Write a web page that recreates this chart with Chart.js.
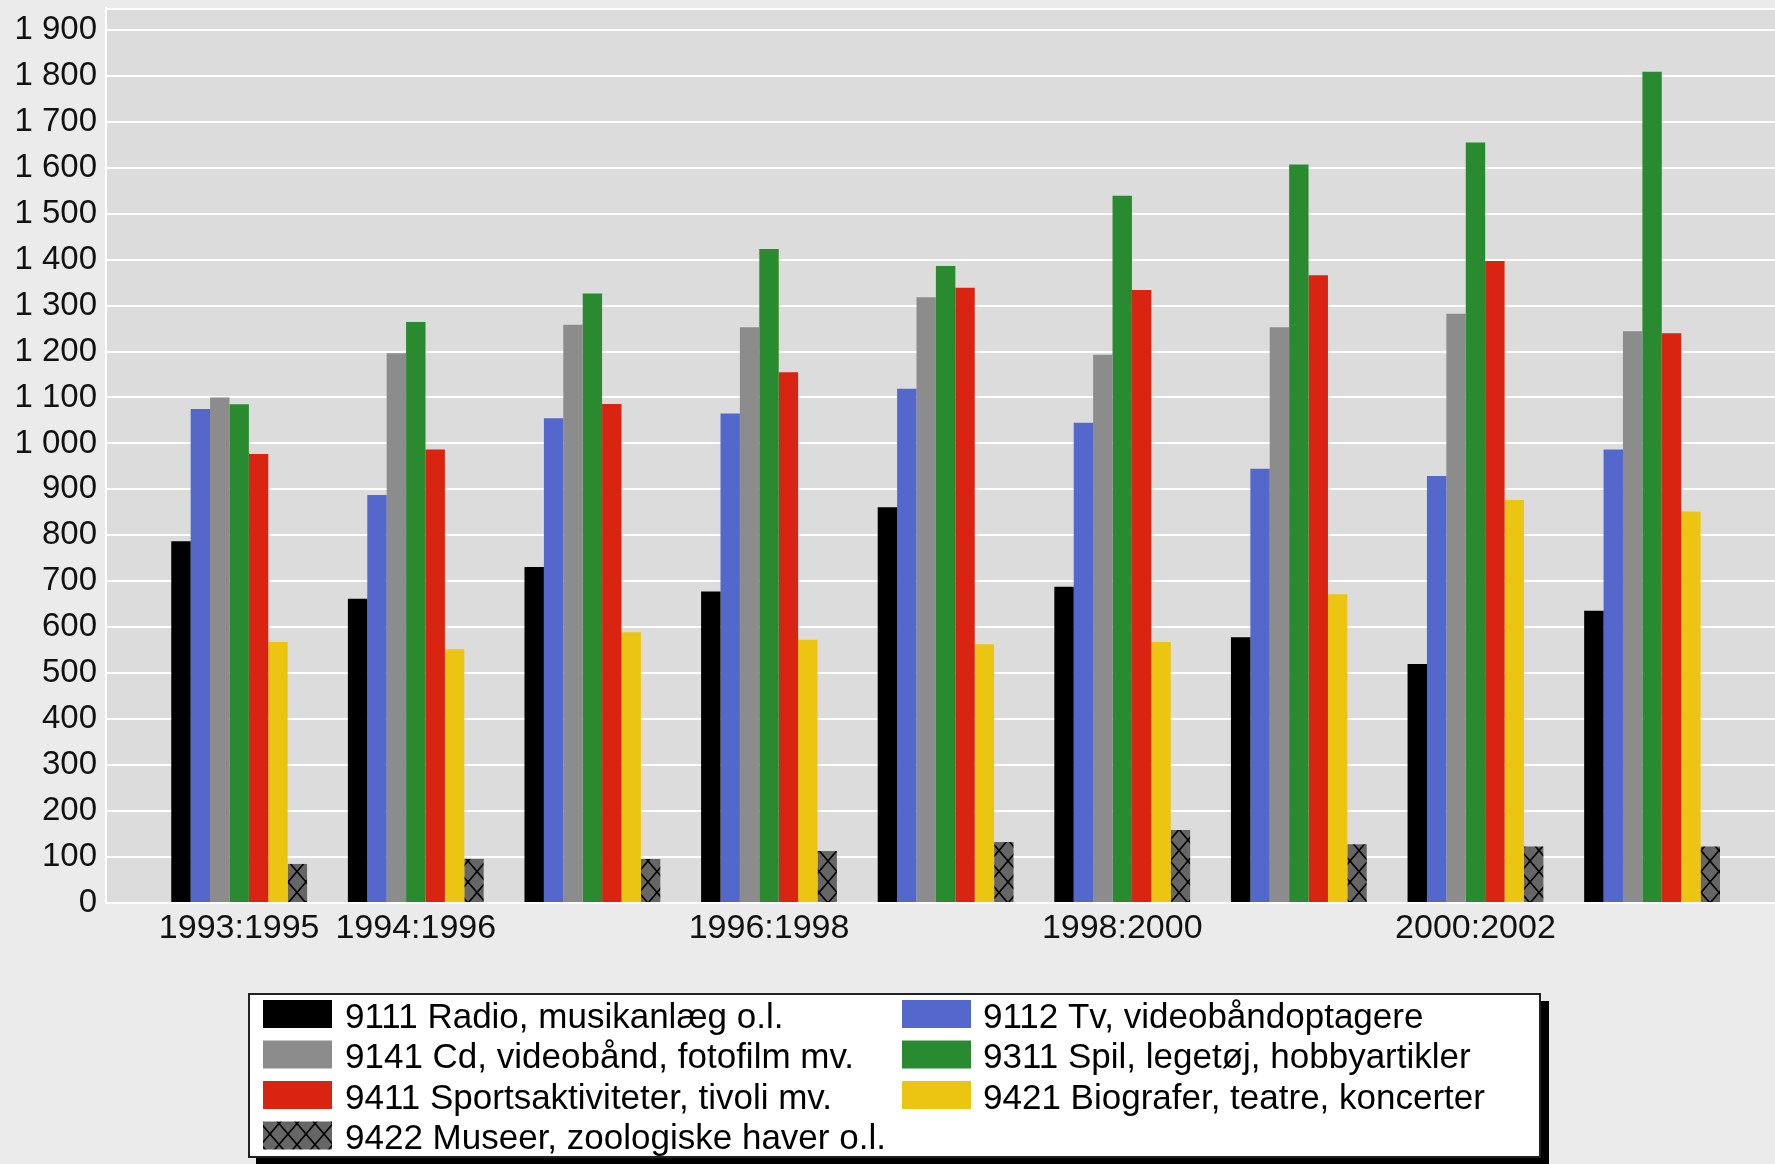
<!DOCTYPE html>
<html>
<head>
<meta charset="utf-8">
<script src="https://cdn.jsdelivr.net/npm/chart.js@4/dist/chart.umd.min.js"></script>
<style>
  html, body { margin: 0; padding: 0; background: #EBEBEB; }
  canvas { display: block; }
</style>
</head>
<body>
<canvas id="c" width="1775" height="1164"></canvas>
<script>
// ---- data ----
const categories = ['1993:1995','1994:1996','1995:1997','1996:1998','1997:1999','1998:2000','1999:2001','2000:2002','2001:2003'];
const shownCategoryIdx = [0, 1, 3, 5, 7];
const seriesLabels = [
  '9111 Radio, musikanlæg o.l.',
  '9112 Tv, videobåndoptagere',
  '9141 Cd, videobånd, fotofilm mv.',
  '9311 Spil, legetøj, hobbyartikler',
  '9411 Sportsaktiviteter, tivoli mv.',
  '9421 Biografer, teatre, koncerter',
  '9422 Museer, zoologiske haver o.l.'
];
const radio  = [787, 662, 731, 678, 861, 688, 578, 520, 636];
const tv     = [1075, 888, 1055, 1065, 1119, 1045, 945, 929, 987];
const cd     = [1100, 1196, 1258, 1253, 1318, 1193, 1253, 1282, 1244];
const spil   = [1085, 1264, 1326, 1423, 1386, 1539, 1607, 1655, 1809];
const sport  = [977, 987, 1086, 1155, 1339, 1334, 1366, 1397, 1240];
const bio    = [568, 552, 589, 573, 563, 568, 672, 877, 852];
const museer = [85, 96, 96, 113, 133, 159, 128, 123, 123];
const yTicks = [0, 100, 200, 300, 400, 500, 600, 700, 800, 900, 1000, 1100, 1200, 1300, 1400, 1500, 1600, 1700, 1800, 1900];

// ---- styles ----
function makeHatch() {
  const w = 18, h = 21;
  const pc = document.createElement('canvas');
  pc.width = w; pc.height = h;
  const g = pc.getContext('2d');
  g.fillStyle = '#666666';
  g.fillRect(0, 0, w, h);
  g.strokeStyle = '#000000';
  g.lineWidth = 1.6;
  g.beginPath();
  g.moveTo(-w, -h); g.lineTo(2 * w, 2 * h);
  g.moveTo(2 * w, -h); g.lineTo(-w, 2 * h);
  g.moveTo(0, -h); g.lineTo(2 * w, h);
  g.moveTo(-w, 0); g.lineTo(w, 2 * h);
  g.moveTo(w, -h); g.lineTo(-w, h);
  g.moveTo(2 * w, 0); g.lineTo(0, 2 * h);
  g.stroke();
  return document.getElementById('c').getContext('2d').createPattern(pc, 'repeat');
}
const hatch = makeHatch();
const colors = ['#000000', '#5468CC', '#8C8C8C', '#2A8A30', '#D82410', '#ECC412', hatch];
const seriesValues = [radio, tv, cd, spil, sport, bio, museer];

const datasets = seriesValues.map((vals, s) => ({
  label: seriesLabels[s],
  data: vals.map((v, i) => ({ x: i, y: v })),
  backgroundColor: colors[s],
  borderWidth: 0,
  categoryPercentage: 0.769,
  barPercentage: 1.0
}));

const FONT = '"Liberation Sans", Arial, sans-serif';

const bgPlugin = {
  id: 'bg',
  beforeDraw(chart) {
    const { ctx, chartArea: a } = chart;
    ctx.save();
    ctx.fillStyle = '#DCDCDC';
    ctx.fillRect(a.left, a.top, a.right - a.left, a.bottom - a.top);
    ctx.restore();
  },
  beforeDatasetsDraw(chart) {
    const { ctx, chartArea: a } = chart;
    ctx.save();
    ctx.strokeStyle = '#FFFFFF';
    ctx.lineWidth = 2;
    ctx.beginPath();
    ctx.moveTo(a.left, a.top + 1);
    ctx.lineTo(a.right, a.top + 1);
    ctx.stroke();
    ctx.restore();
  }
};

const legendPlugin = {
  id: 'boxLegend',
  afterDraw(chart) {
    const ctx = chart.ctx;
    const bx = 248, by = 993, bw = 1293, bh = 165;
    ctx.save();
    ctx.fillStyle = '#000000';
    ctx.fillRect(bx + 8, by + 8, bw, bh);
    ctx.fillStyle = '#FFFFFF';
    ctx.fillRect(bx, by, bw, bh);
    ctx.strokeStyle = '#222222';
    ctx.lineWidth = 2;
    ctx.strokeRect(bx + 1, by + 1, bw - 2, bh - 2);
    const colSw = [263, 902], colTx = [345, 983];
    ctx.font = '35px ' + FONT;
    ctx.textBaseline = 'middle';
    ctx.textAlign = 'left';
    chart.data.datasets.forEach((ds, k) => {
      const col = k % 2, row = Math.floor(k / 2);
      const top = 1000 + row * 40.5;
      ctx.fillStyle = ds.backgroundColor;
      ctx.fillRect(colSw[col], top, 69, 28);
      ctx.fillStyle = '#000000';
      ctx.fillText(ds.label, colTx[col], top + 18);
    });
    ctx.restore();
  }
};

new Chart(document.getElementById('c'), {
  type: 'bar',
  data: { datasets },
  plugins: [bgPlugin, legendPlugin],
  options: {
    responsive: false,
    devicePixelRatio: 1,
    animation: false,
    layout: { padding: { top: 8, right: 0, left: 0, bottom: 0 } },
    plugins: { legend: { display: false }, tooltip: { enabled: false } },
    scales: {
      x: {
        type: 'linear',
        min: -0.754,
        max: 8.696,
        offset: false,
        grid: { display: false, drawTicks: false },
        border: { display: true, color: '#FFFFFF', width: 2 },
        afterFit(scale) { scale.height = 261; scale.paddingLeft = 0; scale.paddingRight = 0; },
        afterBuildTicks(scale) { scale.ticks = shownCategoryIdx.map(v => ({ value: v })); },
        ticks: {
          autoSkip: false,
          maxRotation: 0,
          padding: 5,
          color: '#111111',
          font: { family: FONT, size: 34 },
          callback: (v) => categories[v] ?? ''
        }
      },
      y: {
        min: 0,
        max: 1947.5,
        grid: { color: '#FFFFFF', lineWidth: 2, drawTicks: false },
        border: { display: true, color: '#FFFFFF', width: 2 },
        afterFit(scale) { scale.width = 106; scale.paddingTop = 0; scale.paddingBottom = 0; },
        afterBuildTicks(scale) { scale.ticks = yTicks.map(v => ({ value: v })); },
        ticks: {
          padding: 9,
          color: '#111111',
          font: { family: FONT, size: 33 },
          callback: (v) => {
            const s = String(v);
            return s.length > 3 ? s.slice(0, s.length - 3) + ' ' + s.slice(-3) : s;
          }
        }
      }
    }
  }
});
</script>
</body>
</html>
